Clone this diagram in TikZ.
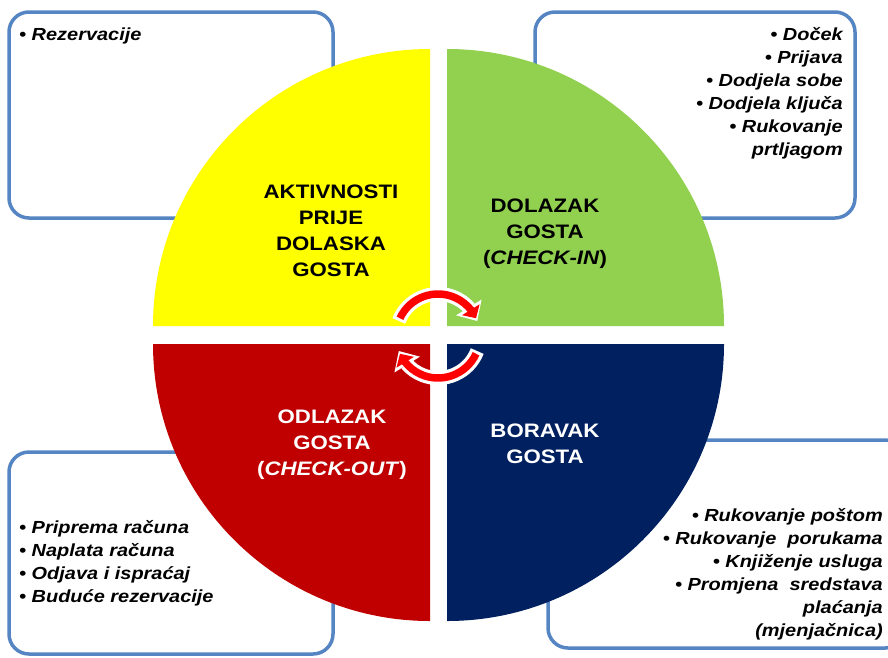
\documentclass[tikz,border=0pt]{standalone}
\usepackage{fontspec}
\setmainfont{Liberation Sans}[FakeStretch=1.14]
\usetikzlibrary{arrows.meta,bending}
\definecolor{qyellow}{HTML}{FFFF00}
\definecolor{qgreen}{HTML}{92D050}
\definecolor{qred}{HTML}{C00000}
\definecolor{qblue}{HTML}{002060}
\definecolor{boxblue}{HTML}{5585C2}
\definecolor{arrowred}{HTML}{FF0000}
\begin{document}
\begin{tikzpicture}[x=1pt,y=-1pt,
  infobox/.style={draw=boxblue, line width=3.5pt, rounded corners=20pt, fill=white},
  bullets/.style={font=\bfseries\itshape\fontsize{17.5}{23}\selectfont, inner sep=0pt},
  qlabel/.style={font=\bfseries\fontsize{19.5}{26}\selectfont, inner sep=0pt, align=center, anchor=north},
  outline/.style={white, line width=14pt, shorten >=-3pt, -{Triangle[length=16pt,width=29pt]}},
  redarrow/.style={arrowred, line width=7.5pt, -{Triangle[length=10pt,width=20pt]}}]
\useasboundingbox (0,0) rectangle (888,657);
\clip (0,0) rectangle (888,657);
% info boxes
\draw[infobox] (9,12) rectangle (333,218);
\draw[infobox] (535,12) rectangle (855,218);
\draw[infobox] (9,452) rectangle (333,654);
\draw[infobox] (548,440) rectangle (905,648);
% quadrants
\fill[qyellow] (430,326) -- ++(-277,0) arc[start angle=180, end angle=270, radius=277] -- cycle;
\fill[qgreen] (447,326) -- ++(0,-277) arc[start angle=270, end angle=360, radius=277] -- cycle;
\fill[qred] (430,344) -- ++(0,277) arc[start angle=90, end angle=180, radius=277] -- cycle;
\fill[qblue] (447,344) -- ++(277,0) arc[start angle=0, end angle=90, radius=277] -- cycle;
% quadrant labels
\node[qlabel] (ly) at (331,178) {\rule{0pt}{20pt}AKTIVNOSTI\\PRIJE\\DOLASKA\\GOSTA};
\node[qlabel] (lg) at (545,192) {\rule{0pt}{20pt}DOLAZAK\\GOSTA\\(\textit{CHECK-IN})};
\node[qlabel, text=white] (lr) at (332,403) {\rule{0pt}{20pt}ODLAZAK\\GOSTA\\(\textit{CHECK-OUT})};
\node[qlabel, text=white] (lb) at (545,417) {\rule{0pt}{20pt}BORAVAK\\GOSTA};
% bullet texts
\node[bullets, anchor=north west, align=left] (tl) at (19,22) {\rule{0pt}{18pt}• Rezervacije};
\node[bullets, anchor=north east, align=right] (tr) at (843,22) {\rule{0pt}{18pt}• Doček\\• Prijava\\• Dodjela sobe\\• Dodjela ključa\\• Rukovanje\\prtljagom};
\node[bullets, anchor=north west, align=left] (bl) at (19,515) {\rule{0pt}{18pt}• Priprema računa\\• Naplata računa\\• Odjava i ispraćaj\\• Buduće rezervacije};
\node[bullets, anchor=north east, align=right] (br) at (883,503) {\rule{0pt}{18pt}• Rukovanje poštom\\• Rukovanje\ \ porukama\\• Knjiženje usluga\\• Promjena\ \ sredstava\\plaćanja\\(mjenjačnica)};
% circular arrows
\coordinate (ac) at (438,336);
\draw[outline] ([shift={(201:42)}]ac) arc[start angle=201, end angle=335, radius=42];
\draw[redarrow] ([shift={(205:42)}]ac) arc[start angle=205, end angle=335, radius=42];
\draw[outline] ([shift={(21:42)}]ac) arc[start angle=21, end angle=155, radius=42];
\draw[redarrow] ([shift={(25:42)}]ac) arc[start angle=25, end angle=155, radius=42];
\end{tikzpicture}
\end{document}
